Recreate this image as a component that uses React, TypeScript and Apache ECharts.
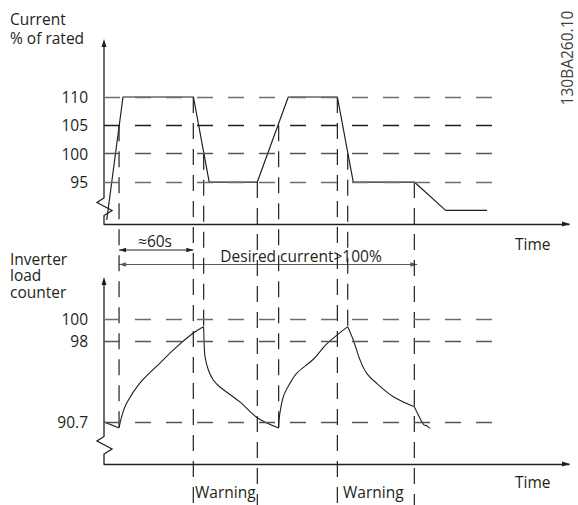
import React, { useEffect, useRef } from "react";
import * as echarts from "echarts";

// ---- data ----
const timeMax = 377; // seconds shown on the time axes
const currentTicks = [95, 100, 105, 110];
const loadTicks = [90.7, 98, 100];
const dashEnd = 314.6; // end of the horizontal reference lines (s)

// Current, % of rated
const currentT = [2.2, 15.4, 72.5, 85.3, 124.3, 149.4, 189.2, 202.1, 251.6, 277.0, 310.5];
const currentV = [88.3, 110, 110, 95, 95, 110, 110, 95, 95, 90, 90];

// Inverter load counter, in segments
const loadStartT = [0, 12.2];
const loadStartV = [90.7, 90.15];
const loadRise1T = [12.2, 14.3, 18.4, 29.2, 45.4, 58.9, 72.4, 80.8];
const loadRise1V = [90.15, 91.17, 92.4, 94.21, 96.01, 97.46, 98.72, 99.29];
const loadFall1T = [80.8, 81.3, 81.9, 84.6, 88.6, 94.0, 110.2, 124.6, 141.6];
const loadFall1V = [99.29, 97.48, 96.58, 95.38, 94.48, 93.85, 92.5, 91.05, 90.15];
const loadRise2T = [141.6, 142.2, 145.4, 150.8, 156.2, 169.7, 180.6, 197.6];
const loadRise2V = [90.15, 91.17, 92.97, 94.18, 95.08, 96.35, 97.73, 99.29];
const loadFall2T = [197.6, 202.1, 207.6, 213.0, 221.1, 234.6, 251.6];
const loadFall2V = [99.29, 98.09, 96.28, 95.08, 94.18, 92.97, 92.07];
const loadTailT = [251.6, 253.5, 257.6, 259.4, 261.6, 264.3];
const loadTailV = [92.07, 91.62, 90.72, 90.42, 90.36, 90.12];

// Vertical event markers
const markT = [12.2, 72.4, 80.8, 124.3, 141.6, 189.2, 197.6, 251.6];
const markFromCurrent = [105, 110, 100, 95, 105, 110, 100, 95];
const markToLoad: (number | null)[] = [90.15, null, 99.29, null, 90.15, null, 99.29, null];

// Intervals
const sixtyStart = 12.2;
const sixtyEnd = 72.4;
const desiredStart = 12.2;
const desiredEnd = 254;

const INK = "#231f20";
const FONT = "'Open Sans', sans-serif";
const FS = 15.5;

const pairs = (t: number[], v: number[]) => t.map((x, i) => [x, v[i]]);

const hLine = (v: number, color: string) => [
  { coord: [0, v], lineStyle: { color, width: 1.3, type: [16, 15] } },
  { coord: [dashEnd, v] },
];

const loadSeries = (name: string, t: number[], v: number[], smooth: number | boolean, extra = {}) => ({
  name,
  type: "line",
  xAxisIndex: 1,
  yAxisIndex: 1,
  data: pairs(t, v),
  smooth,
  symbol: "none",
  silent: true,
  lineStyle: { color: INK, width: 1.1 },
  ...extra,
});

export default function App() {
  const ref = useRef<HTMLDivElement>(null);
  useEffect(() => {
    document.body.style.margin = "0";
    const chart = echarts.init(ref.current!, null, { renderer: "svg" });
    const axisLabel = (vals: number[]) => ({
      customValues: vals,
      margin: 16,
      fontSize: FS,
      color: INK,
      fontFamily: FONT,
      padding: [3, 0, 0, 0],
    });
    chart.setOption({
      animation: false,
      textStyle: { fontFamily: FONT },
      grid: [
        { left: 104, top: 42, width: 465, height: 182 },
        { left: 104, top: 280, width: 465, height: 184 },
      ],
      xAxis: [0, 1].map((g) => ({
        gridIndex: g,
        type: "value",
        min: 0,
        max: timeMax,
        axisLine: { show: true, lineStyle: { color: INK, width: 1.3 } },
        axisTick: { show: false },
        axisLabel: { show: false },
        splitLine: { show: false },
      })),
      yAxis: [
        {
          gridIndex: 0,
          type: "value",
          min: 87.6,
          max: 119.7,
          axisLine: { show: false },
          axisTick: { show: false },
          splitLine: { show: false },
          axisLabel: axisLabel(currentTicks),
        },
        {
          gridIndex: 1,
          type: "value",
          min: 86.9,
          max: 103.5,
          axisLine: { show: false },
          axisTick: { show: false },
          splitLine: { show: false },
          axisLabel: axisLabel(loadTicks),
        },
      ],
      series: [
        {
          name: "Current",
          type: "line",
          xAxisIndex: 0,
          yAxisIndex: 0,
          data: pairs(currentT, currentV),
          symbol: "none",
          silent: true,
          lineStyle: { color: INK, width: 1.2 },
          markLine: {
            silent: true,
            symbol: ["none", "none"],
            label: { show: false },
            data: [hLine(110, "#6d6e71"), hLine(105, "#231f20"), hLine(100, "#555"), hLine(95, "#6d6e71")],
          },
          z: 3,
        },
        loadSeries("Load start", loadStartT, loadStartV, false, {
          markLine: {
            silent: true,
            symbol: ["none", "none"],
            label: { show: false },
            data: [hLine(100, "#6d6e71"), hLine(98, "#555"), hLine(90.7, "#555")],
          },
        }),
        loadSeries("Load rise 1", loadRise1T, loadRise1V, 0.35),
        loadSeries("Load fall 1", loadFall1T, loadFall1V, 0.35),
        loadSeries("Load rise 2", loadRise2T, loadRise2V, 0.35),
        loadSeries("Load fall 2", loadFall2T, loadFall2V, 0.35),
        loadSeries("Load tail", loadTailT, loadTailV, false),
      ],
    });

    const px = (g: number, t: number, v: number) =>
      chart.convertToPixel({ gridIndex: g }, [t, v]) as number[];

    const graphic: any[] = [];
    // vertical dashed event lines
    markT.forEach((t, i) => {
      const [x, y1] = px(0, t, markFromCurrent[i]);
      const end = markToLoad[i];
      const y2 = end == null ? 505 : px(1, t, end)[1];
      graphic.push({
        type: "line",
        silent: true,
        z: 1,
        shape: { x1: x, y1, x2: x, y2 },
        style: { stroke: INK, lineWidth: 1.2, lineDash: [16, 10] },
      });
    });

    // y axes with break zigzag and arrow
    [0, 1].forEach((g) => {
      const [x0, yb] = px(g, 0, g === 0 ? 87.6 : 86.9);
      const yt = px(g, 0, g === 0 ? 119.7 : 103.5)[1];
      const b = yb - (g === 0 ? 26 : 27.5);
      graphic.push({
        type: "polyline",
        silent: true,
        shape: {
          points: [
            [x0, yt],
            [x0, b],
            [x0 - 7, b + 4.5],
            [x0 + 8, b + 12.5],
            [x0, b + 17.5],
            [x0, yb],
          ],
        },
        style: { stroke: INK, lineWidth: 1.3, fill: null },
      });
      graphic.push({
        type: "polygon",
        silent: true,
        shape: { points: [[x0, yt - 3], [x0 - 2.5, yt + 5], [x0 + 2.5, yt + 5]] },
        style: { fill: INK },
      });
      const xe = px(g, timeMax, 0)[0];
      graphic.push({
        type: "polygon",
        silent: true,
        shape: { points: [[xe + 1, yb], [xe - 7, yb - 2.5], [xe - 7, yb + 2.5]] },
        style: { fill: INK },
      });
    });

    // interval arrows between the panels
    const arrow = (t1: number, t2: number, y: number, color: string) => {
      const x1 = px(0, t1, 95)[0];
      const x2 = px(0, t2, 95)[0];
      graphic.push({
        type: "line",
        silent: true,
        shape: { x1, y1: y, x2, y2: y },
        style: { stroke: color, lineWidth: 1.2 },
      });
      graphic.push({
        type: "polygon",
        silent: true,
        shape: { points: [[x1, y], [x1 + 7, y - 2.3], [x1 + 7, y + 2.3]] },
        style: { fill: color },
      });
      graphic.push({
        type: "polygon",
        silent: true,
        shape: { points: [[x2, y], [x2 - 7, y - 2.3], [x2 - 7, y + 2.3]] },
        style: { fill: color },
      });
    };
    arrow(sixtyStart, sixtyEnd, 250, INK);
    arrow(desiredStart, desiredEnd, 264.5, "#58595b");

    const text = (s: string, x: number, y: number, align = "left", lineHeight?: number) =>
      graphic.push({
        type: "text",
        silent: true,
        x,
        y,
        z: 5,
        style: {
          text: s,
          fill: INK,
          fontSize: FS,
          fontFamily: FONT,
          align,
          verticalAlign: "middle",
          ...(lineHeight ? { lineHeight } : {}),
        },
      });
    text("Current\n% of rated", 10, 28.3, "left", 18.5);
    text("Inverter\nload\ncounter", 10, 275.3, "left", 16.8);
    text("Time", 515, 243.5);
    text("Time", 515, 482);
    text("≈60s", 155, 240.5, "center");
    text("Desired current>100%", 301, 255.5, "center");
    text("Warning", 195, 491.5);
    text("Warning", 343, 491.5);
    graphic.push({
      type: "text",
      silent: true,
      x: 567,
      y: 58,
      rotation: Math.PI / 2,
      style: {
        text: "130BA260.10",
        fill: "#414042",
        fontSize: 15.5,
        fontFamily: FONT,
        align: "center",
        verticalAlign: "middle",
      },
    });

    chart.setOption({ graphic });
    return () => chart.dispose();
  }, []);
  return <div ref={ref} style={{ position: "absolute", left: 0, top: 0, width: 578, height: 505 }} />;
}
